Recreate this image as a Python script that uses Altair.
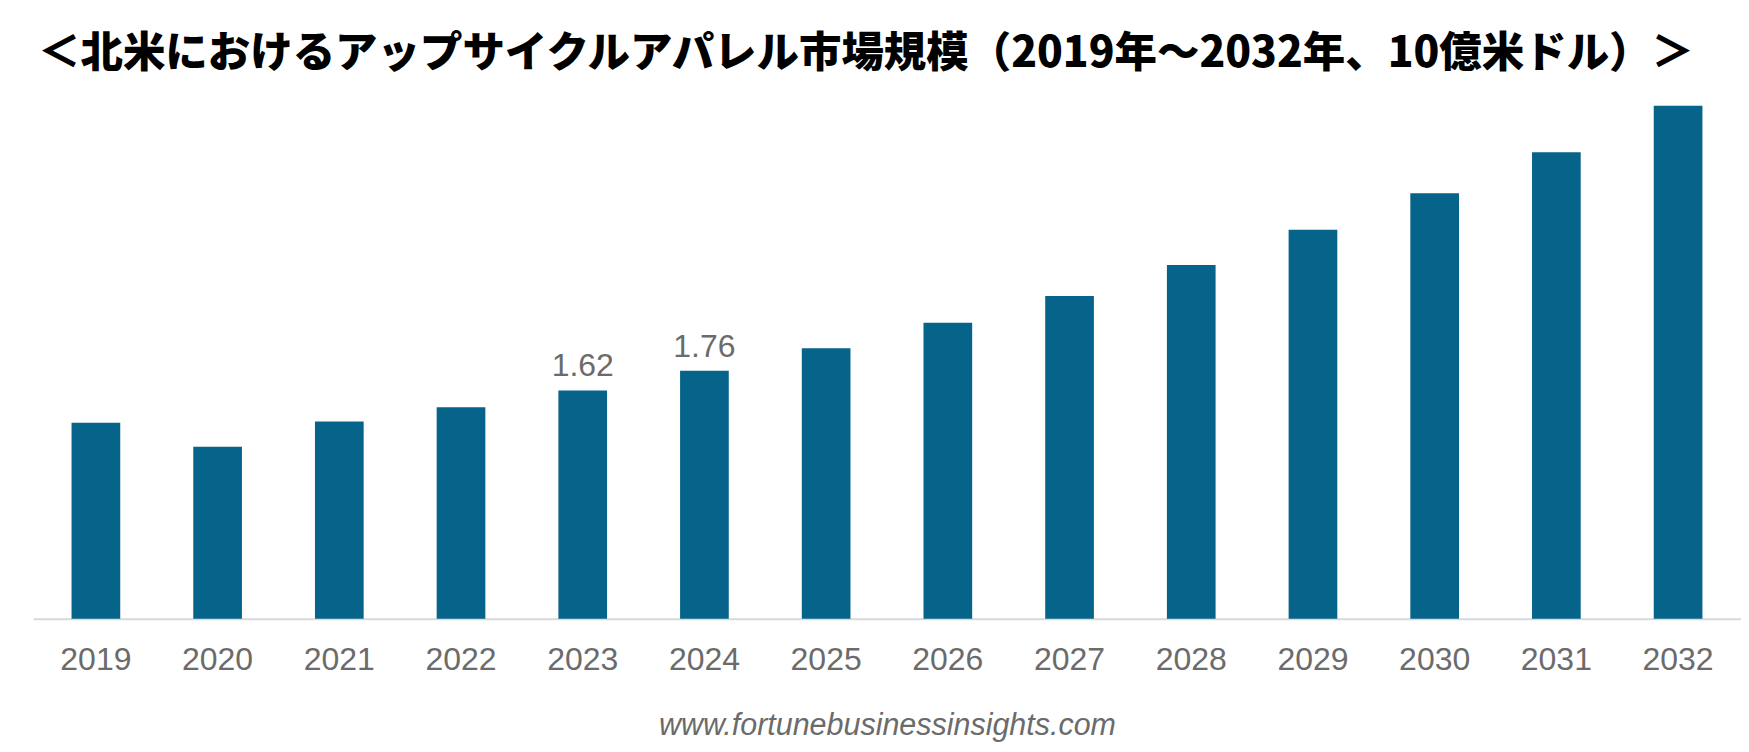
import altair as alt
import pandas as pd

years = ["2019", "2020", "2021", "2022", "2023", "2024", "2025",
         "2026", "2027", "2028", "2029", "2030", "2031", "2032"]
values = [1.39, 1.22, 1.40, 1.50, 1.62, 1.76, 1.92,
          2.10, 2.29, 2.51, 2.76, 3.02, 3.31, 3.64]
shown_labels = ["", "", "", "", "1.62", "1.76", "",
                "", "", "", "", "", "", ""]

title_text = "＜北米におけるアップサイクルアパレル市場規模（2019年～2032年、10億米ドル）＞"
source_text = "www.fortunebusinessinsights.com"

df = pd.DataFrame({"year": years, "value": values, "label": shown_labels})

x = alt.X(
    "year:O",
    sort=years,
    scale=alt.Scale(paddingInner=0.6, paddingOuter=0.317),
    axis=alt.Axis(
        title=source_text,
        titleFont="Liberation Sans",
        titleFontSize=30.5,
        titleFontStyle="italic",
        titleFontWeight="normal",
        titleColor="#6b6b6b",
        titlePadding=35,
        labelAngle=0,
        labelFont="Liberation Sans",
        labelFontSize=32,
        labelColor="#6b6b6b",
        labelPadding=26,
        ticks=False,
        tickSize=0,
        domainColor="#d9d9d9",
        domainWidth=2,
        grid=False,
    ),
)
y = alt.Y("value:Q", scale=alt.Scale(domain=[0, 3.7], nice=False, zero=True), axis=None)

base = alt.Chart(df).encode(x=x, y=y)

bars = base.mark_bar(color="#06638a")
text = base.transform_filter("datum.label != ''").mark_text(
    baseline="alphabetic",
    dy=-14,
    fontSize=32,
    font="Liberation Sans",
    color="#6b6b6b",
).encode(text="label:N")

chart = alt.layer(bars, text).properties(
    width=1710,
    height=522,
    padding={"left": 25, "top": 89, "right": 0, "bottom": 125},
    autosize=alt.AutoSizeParams(type="none"),
    title=alt.TitleParams(
        text=title_text,
        font="Noto Sans CJK JP",
        fontSize=42.5,
        fontWeight=900,
        color="#000000",
        anchor="middle",
        dx=-21,
        offset=22,
    ),
).configure_view(stroke=None)

chart.save("out.html", embed_options={"renderer": "svg", "actions": False})
